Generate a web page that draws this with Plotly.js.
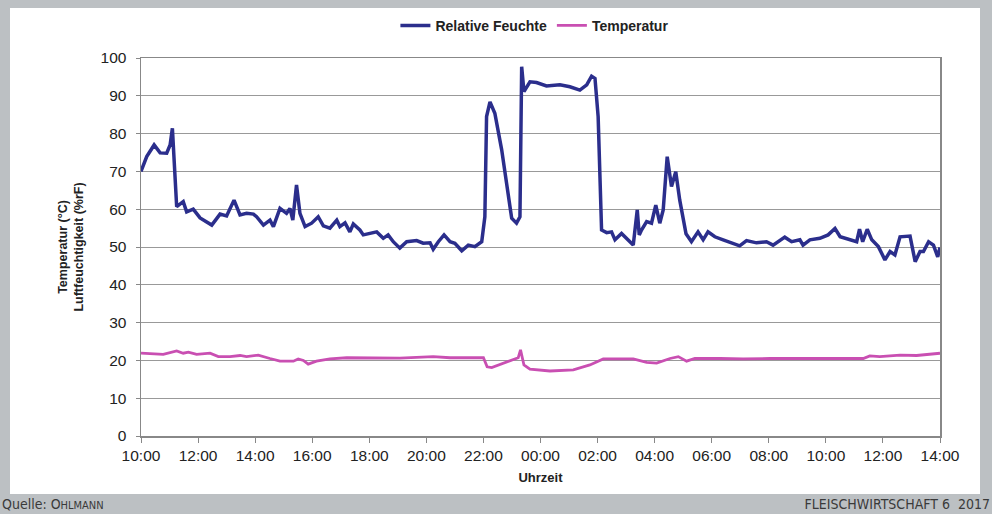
<!DOCTYPE html>
<html>
<head>
<meta charset="utf-8">
<script src="https://cdn.plot.ly/plotly-3.0.1.min.js"></script>
<style>
  html, body { margin:0; padding:0; }
  body { width:992px; height:514px; background:#bcc0c3; position:relative; overflow:hidden; }
  #chart { position:absolute; left:10px; top:8px; width:970px; height:486px; background:#fff; }
  .foot { position:absolute; top:496px; font-family:"Liberation Sans Narrow","DejaVu Sans Condensed","Liberation Sans",sans-serif; font-size:14px; color:#3a3a3a; white-space:nowrap; }
  .sc { font-size:11px; }
</style>
</head>
<body>
<div id="chart"></div>
<div class="foot" style="left:2px;">Quelle: O<span class="sc">HLMANN</span></div>
<div class="foot" style="right:2px;">FLEISCHWIRTSCHAFT 6&nbsp;&nbsp;2017</div>
<script>
// hours since 10:00
const tickHours = [0, 2, 4, 6, 8, 10, 12, 14, 16, 18, 20, 22, 24, 26, 28];
const tickLabels = ["10:00","12:00","14:00","16:00","18:00","20:00","22:00","00:00","02:00","04:00","06:00","08:00","10:00","12:00","14:00"];

const humHours = [0,0.2,0.46,0.67,0.9,1.02,1.1,1.19,1.25,1.48,1.6,1.83,2.07,2.48,2.77,3.0,3.26,3.47,3.7,3.94,4.05,4.29,4.52,4.64,4.87,5.1,5.22,5.32,5.45,5.57,5.75,5.98,6.21,6.39,6.62,6.86,6.97,7.15,7.32,7.44,7.67,7.79,8.02,8.26,8.49,8.66,8.84,9.07,9.31,9.66,9.89,10.13,10.24,10.42,10.62,10.83,11.0,11.24,11.47,11.7,11.94,12.05,12.11,12.23,12.4,12.64,12.81,12.99,13.16,13.28,13.34,13.42,13.63,13.86,14.21,14.68,15.03,15.38,15.62,15.79,15.91,16.02,16.14,16.32,16.49,16.61,16.84,17.07,17.25,17.39,17.46,17.54,17.72,17.89,18.04,18.18,18.3,18.44,18.59,18.74,18.88,19.1,19.29,19.52,19.7,19.87,20.11,20.4,20.69,20.98,21.22,21.57,21.92,22.15,22.56,22.8,23.09,23.2,23.44,23.79,24.08,24.32,24.5,24.85,25.08,25.18,25.29,25.45,25.61,25.84,26.07,26.25,26.42,26.6,26.83,26.95,27.13,27.3,27.42,27.6,27.77,27.92,28.0];
const humValues = [70,73.9,77,74.9,74.8,77,81.4,67,60.7,62,59.3,60,57.7,55.8,58.7,58.2,62.4,58.5,58.9,58.7,58,55.8,57.1,55.4,60.2,58.9,60.2,57.1,66.4,58.9,55.4,56.3,58,55.6,55,57.1,55.4,56.4,54,56.1,54.5,53.2,53.6,54,52.3,53.2,51.4,49.7,51.4,51.7,51,51.1,49.4,51.4,53.2,51.4,51,49,50.5,50.1,51.4,58,84.5,88.4,85.4,75.7,66.9,57.6,56.3,58,97.7,91.1,93.7,93.5,92.6,92.9,92.4,91.5,92.9,95.2,94.6,84.5,54.5,53.8,54,51.9,53.6,51.9,50.5,59.8,53.2,54.5,56.7,56.3,61.1,56.3,59.8,73.9,66,69.9,62.4,53.5,51.4,54,51.9,54,52.7,51.9,51,50.3,51.7,51.1,51.4,50.5,52.6,51.4,51.9,50.5,51.9,52.3,53.2,54.9,52.7,51.9,51.4,54.7,51.4,54.7,51.9,50.1,46.6,48.8,47.9,52.7,52.7,52.9,46.1,48.8,48.8,51.4,50.5,47.4,49.9];

const tempHours = [0,0.78,1.25,1.48,1.66,1.95,2.42,2.71,3.12,3.47,3.7,4.11,4.52,4.87,5.34,5.51,5.69,5.86,6.15,6.62,7.21,8.02,9.07,10.24,10.83,12.0,12.13,12.29,12.7,13.22,13.3,13.42,13.63,14.33,15.15,15.73,16.2,17.25,17.72,18.07,18.54,18.83,19.12,19.41,20.29,21.1,22.04,23.2,25.31,25.54,25.89,26.6,27.18,28];
const tempValues = [21.9,21.6,22.5,21.9,22.2,21.6,21.9,21.0,21.0,21.3,21.0,21.4,20.5,19.8,19.8,20.4,20.0,19.0,19.8,20.4,20.7,20.7,20.6,21.0,20.7,20.7,18.3,18.1,19.2,20.7,22.8,18.8,17.7,17.2,17.5,18.8,20.4,20.4,19.5,19.3,20.5,21.0,19.8,20.5,20.5,20.4,20.5,20.5,20.5,21.2,21.0,21.4,21.3,21.9];

const font = "Liberation Sans, Arial, sans-serif";

const data = [
  { x: humHours, y: humValues, type: "scatter", mode: "lines", name: "Relative Feuchte",
    line: { color: "#2b2e8c", width: 3.5 } },
  { x: tempHours, y: tempValues, type: "scatter", mode: "lines", name: "Temperatur",
    line: { color: "#c94fb2", width: 2.8 } }
];

const layout = {
  width: 970, height: 486,
  margin: { l: 131, r: 40, t: 50, b: 58, autoexpand: false },
  paper_bgcolor: "#ffffff", plot_bgcolor: "#ffffff",
  font: { family: font, color: "#222" },
  showlegend: true,
  legend: { orientation: "h", x: 0.493, xanchor: "center", y: 1.085, yanchor: "middle",
    font: { family: font, size: 14, weight: "bold", color: "#222" }, itemwidth: 30, tracegroupgap: 0 },
  xaxis: {
    range: [0, 28], tickvals: tickHours, ticktext: tickLabels,
    showgrid: false, zeroline: false, showline: true, linecolor: "#888", linewidth: 1.5,
    mirror: true, ticks: "outside", ticklen: 5, tickcolor: "#888",
    tickfont: { family: font, size: 15.5, color: "#222" },
    title: { text: "Uhrzeit", font: { family: font, size: 13, weight: "bold", color: "#222" }, standoff: 10 }
  },
  yaxis: {
    range: [0, 100], dtick: 10, showgrid: true, gridcolor: "#999", gridwidth: 1,
    zeroline: false, showline: true, linecolor: "#888", linewidth: 1.5, mirror: true,
    ticks: "outside", ticklen: 4, tickcolor: "#888", ticklabelstandoff: 6,
    tickfont: { family: font, size: 15.5, color: "#222" },
    title: { text: "Temperatur (°C)<br>Luftfeuchtigkeit (%rF)", font: { family: font, size: 12.5, weight: "bold", color: "#222" }, standoff: 14 }
  }
};

Plotly.newPlot("chart", data, layout, { displayModeBar: false, staticPlot: true });
</script>
</body>
</html>
